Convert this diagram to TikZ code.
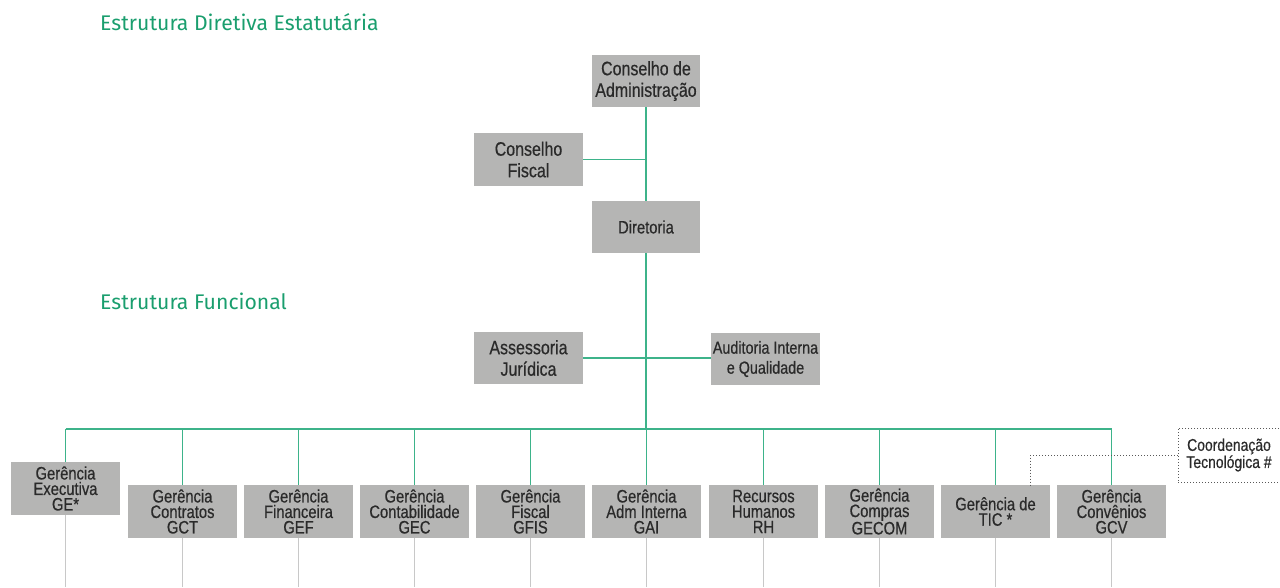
\documentclass[tikz,border=0pt]{standalone}
\usepackage{fontspec}
\setmainfont{Liberation Sans}
\newfontfamily\cond[FakeStretch=0.82,FakeBold=0.5]{Liberation Sans}
\newfontfamily\titlefont{Fira Sans}
\definecolor{titlegreen}{HTML}{1A9E6E}
\definecolor{linegreen}{HTML}{3DB38A}
\definecolor{boxgray}{HTML}{B5B5B4}
\definecolor{txtgray}{HTML}{2A2A2A}
\definecolor{stemgray}{HTML}{C8C8C8}
\begin{document}
\begin{tikzpicture}[x=1pt,y=-1pt,
  box/.style={fill=boxgray, inner sep=0pt, align=center, text=txtgray, minimum width=109pt, minimum height=53pt},
  bigbox/.style={box, font=\cond\fontsize{19.5}{21.5}\selectfont},
  midbox/.style={box, font=\cond\fontsize{17.5}{20}\selectfont},
  lowbox/.style={box, font=\cond\fontsize{18}{15.5}\selectfont},
  gline/.style={draw=linegreen, line width=1.9pt},
  sline/.style={draw=stemgray, line width=1.8pt},
  dline/.style={draw=black!65, line width=1pt, dotted},
  ttl/.style={anchor=base west, inner sep=0pt, text=titlegreen, font=\titlefont\fontsize{21.2}{23}\selectfont}
]
\useasboundingbox (0,0) rectangle (1280,587);

\node[ttl] (t1) at (100,30) {Estrutura Diretiva Estatutária};
\node[ttl] (t2) at (100,309) {Estrutura Funcional};

\node[bigbox, minimum width=108pt, minimum height=52pt] (ca) at (646,81) {Conselho de\\Administração};
\node[bigbox] (cf) at (528.5,159.5) {Conselho\\Fiscal};
\node[box, minimum width=108pt, minimum height=52pt, font=\cond\fontsize{18}{20}\selectfont] (dir) at (646,227) {Diretoria};
\node[bigbox, minimum height=52pt] (aj) at (528.5,358) {Assessoria\\Jurídica};
\node[midbox, minimum height=52pt] (ai) at (765.5,359) {Auditoria Interna\\e Qualidade};

\coordinate (bar) at (646,429);

\node[lowbox] (ge) at (65.5,488.5) {Gerência\\Executiva\\GE*};
\node[lowbox] (gct) at (182.5,511.5) {Gerência\\Contratos\\GCT};
\node[lowbox] (gef) at (298.5,511.5) {Gerência\\Financeira\\GEF};
\node[lowbox] (gec) at (414.5,511.5) {Gerência\\Contabilidade\\GEC};
\node[lowbox] (gfis) at (530.5,511.5) {Gerência\\Fiscal\\GFIS};
\node[lowbox] (gai) at (646.5,511.5) {Gerência\\Adm Interna\\GAI};
\node[lowbox] (rh) at (763.5,511.5) {Recursos\\Humanos\\RH};
\node[lowbox] (gecom) at (879.5,511.5) {Gerência\\Compras\\GECOM};
\node[lowbox] (tic) at (995.5,511.5) {Gerência de\\TIC *};
\node[lowbox] (gcv) at (1111.5,511.5) {Gerência\\Convênios\\GCV};

\node[dline, minimum width=112pt, minimum height=54pt, inner sep=0pt] (cob) at (1234,455) {};
\node[inner sep=0pt, align=center, text=txtgray, font=\cond\fontsize{17}{15}\selectfont] (cot) at (1229,455) {Coordenação\\Tecnológica \#};

% green connectors
\draw[gline] (ca.south) -- (dir.north);
\draw[gline] (cf.east) -- (cf.east -| ca.south);
\draw[gline] (dir.south) -- (bar);
\draw[gline] (aj.east) -- (aj.east -| ai.west);
\draw[gline] (ge.north |- bar) -- (gcv.north |- bar);
\foreach \n in {ge,gct,gef,gec,gfis,gai,rh,gecom,tic,gcv}{
  \draw[gline] (\n.north) -- (\n.north |- bar);
  \draw[sline] (\n.south) -- (\n.south |- 0,587);
}
% dotted connector
\draw[dline] (cob.west) -| ([xshift=34.5pt]tic.north);
\end{tikzpicture}
\end{document}
